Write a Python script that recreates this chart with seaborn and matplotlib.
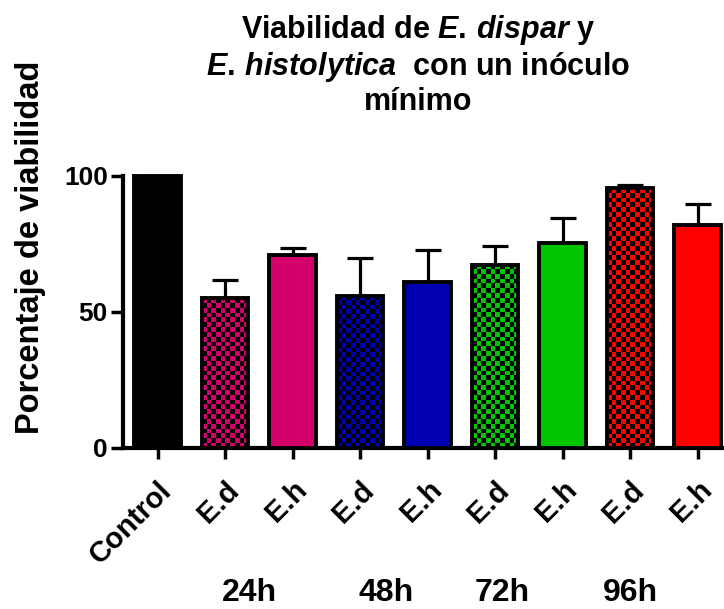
import numpy as np
import matplotlib
matplotlib.use('Agg')
import matplotlib.pyplot as plt
import matplotlib.transforms as mtransforms
import seaborn as sns

# data
categories = ['Control', 'E.d 24h', 'E.h 24h', 'E.d 48h', 'E.h 48h',
              'E.d 72h', 'E.h 72h', 'E.d 96h', 'E.h 96h']
tick_labels = ['Control', 'E.d', 'E.h', 'E.d', 'E.h', 'E.d', 'E.h', 'E.d', 'E.h']
viability = [100, 55, 71, 56, 61, 67.3, 75.2, 95.5, 82]
sem_up = [0, 6.8, 2.4, 14, 11.7, 7, 9.5, 1.0, 7.6]
colors = ['#000000', '#D3006B', '#D3006B', '#0000B0', '#0000B0',
          '#00C400', '#00C400', '#FF0000', '#FF0000']
checkered = [False, True, False, True, False, True, False, True, False]
group_labels = ['24h', '48h', '72h', '96h']
group_pos = [1.36, 3.38, 5.11, 7.0]

sns.set_style('ticks')
plt.rcParams['font.family'] = ['Liberation Sans', 'DejaVu Sans']
plt.rcParams['mathtext.fontset'] = 'custom'
plt.rcParams['mathtext.rm'] = 'Liberation Sans:bold'
plt.rcParams['mathtext.bf'] = 'Liberation Sans:bold'
plt.rcParams['mathtext.it'] = 'Liberation Sans:italic:bold'
for key in ['text.color', 'axes.labelcolor', 'xtick.color', 'ytick.color',
            'axes.edgecolor']:
    plt.rcParams[key] = 'black'

fig = plt.figure(figsize=(7.24, 6.09), dpi=100)
ax = fig.add_axes([0.170, 0.2644, 0.830, 0.469])

sns.barplot(x=categories, y=viability, hue=categories, palette=colors,
            legend=False, width=0.69, edgecolor='black', linewidth=2.8,
            saturation=1, errorbar=None, ax=ax, zorder=3)

# one-sided error bars (upper only)
ax.errorbar(range(len(categories)), viability,
            yerr=[np.zeros(len(sem_up)), sem_up], fmt='none',
            ecolor='black', elinewidth=2.3, capsize=9.5, capthick=2.3,
            zorder=2)

ax.set_xlim(-0.51, 8.39)
ax.set_ylim(0, 105)

# checkerboard fill for the E.d bars
bars = sorted(ax.patches, key=lambda p: p.get_x())
fig.canvas.draw()
for bar, chk in zip(bars, checkered):
    if not chk:
        continue
    x0, y0 = bar.get_x(), bar.get_y()
    w, h = bar.get_width(), bar.get_height()
    (px0, py0), (px1, py1) = ax.transData.transform([(x0, y0), (x0 + w, y0 + h)])
    ncol = max(1, int(round(abs(px1 - px0) / 4.8)))
    nrow = max(1, int(round(abs(py1 - py0) / 4.8)))
    board = (np.add.outer(np.arange(nrow), np.arange(ncol)) % 2).astype(float)
    rgba = np.zeros((nrow, ncol, 4))
    rgba[..., 3] = board
    im = ax.imshow(rgba, extent=(x0, x0 + w, y0, y0 + h), origin='lower',
                   interpolation='nearest', aspect='auto', zorder=3.5)
    im.set_clip_path(bar)

ax.set_xlim(-0.51, 8.39)
ax.set_ylim(0, 105)

ax.set_yticks([0, 50, 100])
ax.set_yticklabels(['0', '50', '100'], fontsize=19, fontweight='bold')
ax.set_xticks(range(len(categories)))
ax.set_xticklabels(tick_labels, rotation=45, ha='right', rotation_mode='anchor',
                   fontsize=21, fontweight='bold')
ax.tick_params(axis='y', length=9, width=2.5, pad=2)
ax.tick_params(axis='x', length=8, width=2.5, pad=12)

sns.despine(ax=ax)
ax.spines['left'].set_bounds(0, 100)
ax.spines['left'].set_linewidth(3)
ax.spines['bottom'].set_linewidth(3)

ax.set_ylabel('Porcentaje de viabilidad', fontsize=23.5, fontweight='bold')
ax.yaxis.set_label_coords(-0.128, 0.704)

trans = mtransforms.blended_transform_factory(ax.transData, ax.transAxes)
for gx, gl in zip(group_pos, group_labels):
    ax.text(gx, -0.535, gl, transform=trans, ha='center', va='baseline',
            fontsize=23, fontweight='bold')

title = ('Viabilidad de $\\mathit{E.\\,dispar}$ y\n'
         '$\\mathit{E.\\,histolytica}$  con un inóculo\n'
         'mínimo')
fig.text(0.578, 0.978, title, ha='center', va='top', fontsize=22,
         fontweight='bold', linespacing=1.12)

fig.savefig('out.png', dpi=100)
